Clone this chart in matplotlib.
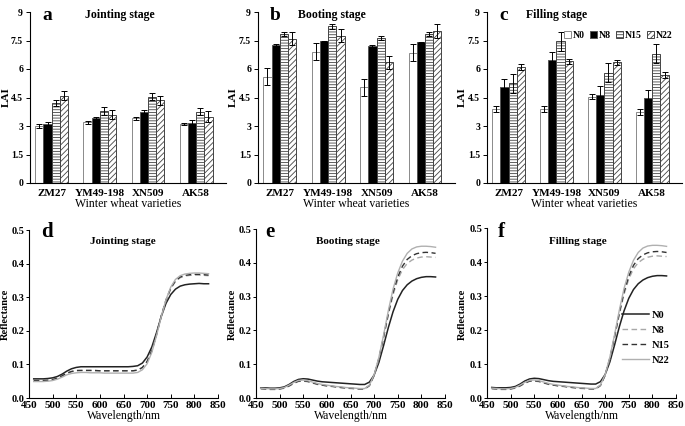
import matplotlib
matplotlib.use("Agg")
import matplotlib.pyplot as plt
import numpy as np

plt.rcParams['font.family'] = ['Liberation Serif', 'DejaVu Serif']
plt.rcParams['font.weight'] = 'bold'
plt.rcParams['hatch.linewidth'] = 0.6

varieties = ["ZM27", "YM49-198", "XN509", "AK58"]
treatments = ["N0", "N8", "N15", "N22"]

# LAI means [treatment][variety]
lai_joint = [[3.0, 3.2, 3.4, 3.1],
             [3.1, 3.4, 3.75, 3.15],
             [4.2, 3.8, 4.55, 3.75],
             [4.6, 3.6, 4.35, 3.5]]
lai_joint_err = [[0.08, 0.08, 0.06, 0.06],
                 [0.12, 0.10, 0.10, 0.15],
                 [0.15, 0.20, 0.18, 0.18],
                 [0.25, 0.25, 0.25, 0.28]]
lai_boot = [[5.6, 6.9, 5.05, 6.85],
            [7.25, 7.45, 7.2, 7.4],
            [7.85, 8.25, 7.65, 7.85],
            [7.6, 7.75, 6.35, 8.0]]
lai_boot_err = [[0.45, 0.45, 0.45, 0.45],
                [0.04, 0.04, 0.04, 0.04],
                [0.12, 0.12, 0.10, 0.10],
                [0.35, 0.35, 0.35, 0.35]]
lai_fill = [[3.9, 3.9, 4.55, 3.75],
            [5.05, 6.45, 4.65, 4.45],
            [5.25, 7.45, 5.8, 6.8],
            [6.1, 6.4, 6.35, 5.7]]
lai_fill_err = [[0.15, 0.15, 0.15, 0.15],
                [0.45, 0.45, 0.45, 0.45],
                [0.50, 0.50, 0.50, 0.50],
                [0.15, 0.15, 0.15, 0.15]]

wavelength = [460, 470, 480, 490, 500, 510, 520, 530, 540, 550, 560, 570, 580,
              590, 600, 610, 620, 630, 640, 650, 660, 670, 680, 690, 700, 710,
              720, 730, 740, 750, 760, 770, 780, 790, 800, 810, 820, 830]

refl_joint = {
    "N0":  [.057, .057, .057, .058, .060, .064, .071, .080, .087, .091, .093, .093, .093,
            .093, .093, .093, .093, .093, .093, .093, .093, .094, .096, .104, .122, .152,
            .195, .243, .282, .308, .324, .333, .337, .339, .340, .341, .340, .340],
    "N8":  [.051, .051, .051, .052, .054, .058, .065, .073, .078, .081, .082, .082, .082,
            .081, .081, .081, .081, .081, .081, .081, .081, .081, .083, .090, .108, .140,
            .188, .243, .290, .325, .347, .358, .363, .365, .366, .366, .365, .364],
    "N15": [.052, .052, .052, .053, .055, .059, .066, .074, .079, .082, .082, .082, .082,
            .082, .081, .081, .081, .081, .081, .081, .081, .081, .083, .091, .109, .141,
            .190, .245, .292, .327, .349, .360, .365, .367, .368, .368, .367, .366],
    "N22": [.049, .049, .049, .050, .052, .056, .062, .069, .073, .075, .076, .076, .075,
            .075, .075, .074, .074, .074, .074, .074, .074, .074, .076, .084, .102, .136,
            .186, .243, .293, .330, .353, .364, .369, .371, .372, .372, .371, .370],
}
refl_boot = {
    "N0":  [.030, .030, .029, .029, .030, .033, .040, .049, .055, .057, .056, .053, .050,
            .048, .047, .046, .045, .044, .043, .042, .041, .040, .040, .047, .068, .105,
            .155, .208, .255, .292, .318, .335, .346, .353, .357, .359, .359, .358],
    "N8":  [.027, .026, .025, .025, .026, .029, .035, .043, .049, .050, .048, .044, .040,
            .038, .036, .034, .032, .031, .029, .028, .027, .026, .026, .036, .066, .115,
            .178, .245, .305, .350, .380, .398, .408, .414, .417, .418, .417, .416],
    "N15": [.028, .027, .026, .026, .027, .030, .036, .044, .050, .051, .049, .045, .041,
            .038, .036, .035, .033, .031, .030, .029, .028, .027, .027, .037, .067, .117,
            .181, .250, .312, .358, .390, .410, .421, .427, .430, .431, .430, .428],
    "N22": [.029, .028, .027, .027, .028, .031, .038, .046, .052, .053, .051, .047, .043,
            .040, .038, .036, .034, .033, .031, .030, .029, .028, .028, .038, .069, .120,
            .186, .258, .322, .370, .405, .428, .441, .447, .449, .449, .448, .446],
}
refl_fill = {
    "N0":  [.031, .030, .030, .030, .031, .034, .041, .050, .056, .058, .057, .054, .051,
            .049, .048, .047, .046, .045, .044, .043, .042, .041, .041, .048, .069, .106,
            .156, .209, .256, .293, .319, .336, .347, .354, .358, .360, .360, .359],
    "N8":  [.027, .026, .025, .025, .026, .029, .035, .043, .049, .050, .048, .044, .040,
            .038, .036, .034, .032, .031, .029, .028, .027, .026, .026, .036, .066, .115,
            .178, .245, .305, .350, .380, .398, .408, .414, .417, .418, .417, .416],
    "N15": [.028, .027, .026, .026, .027, .030, .036, .044, .050, .051, .049, .045, .041,
            .038, .036, .035, .033, .031, .030, .029, .028, .027, .027, .037, .067, .117,
            .181, .250, .312, .358, .390, .410, .421, .427, .430, .431, .430, .428],
    "N22": [.029, .028, .027, .027, .028, .031, .038, .046, .052, .053, .051, .047, .043,
            .040, .038, .036, .034, .033, .031, .030, .029, .028, .028, .038, .069, .120,
            .186, .258, .322, .370, .405, .428, .441, .447, .449, .449, .448, .446],
}

W, H = 685, 426
fig = plt.figure(figsize=(W / 100, H / 100), dpi=100)


def px_axes(l, r, t, b):
    return fig.add_axes([l / W, 1 - b / H, (r - l) / W, (b - t) / H])


bar_styles = [
    dict(facecolor='white', edgecolor='#8a8a8a', hatch=None),
    dict(facecolor='black', edgecolor='#555555', hatch=None),
    dict(facecolor='white', edgecolor='#444444', hatch='------'),
    dict(facecolor='white', edgecolor='#444444', hatch='//////'),
]


def bar_panel(l, r, letter, title, vals, errs, title_x, ylab_x, legend=False):
    ax = px_axes(l, r, 12, 183)
    x = np.arange(len(varieties))
    bw = 0.17
    handles = []
    for i, tr in enumerate(treatments):
        st = bar_styles[i]
        bars = ax.bar(x + (i - 1.5) * bw, vals[i], bw, facecolor=st['facecolor'],
                      edgecolor=st['edgecolor'], hatch=st['hatch'], linewidth=0.7,
                      yerr=errs[i], error_kw=dict(ecolor='black', elinewidth=0.7,
                                                 capsize=2, capthick=0.7),
                      label=tr)
        handles.append(bars)
    ax.set_xlim(-0.45, 3.62)
    ax.set_ylim(0, 9)
    ax.set_yticks([0, 1.5, 3, 4.5, 6, 7.5, 9])
    ax.set_yticklabels(["0", "1.5", "3", "4.5", "6", "7.5", "9"])
    ax.set_xticks(x)
    ax.set_xticklabels(varieties)
    ax.tick_params(axis='x', length=0, pad=4, labelsize=8)
    ax.tick_params(axis='y', direction='out', length=3, labelsize=7, width=0.7, pad=2)
    for s in ['top', 'right']:
        ax.spines[s].set_visible(False)
    for s in ['left', 'bottom']:
        ax.spines[s].set_linewidth(0.8)
    fig.text(ylab_x / W, 1 - 97 / H, "LAI", fontsize=8, fontweight='bold',
             rotation=90, va='center', ha='center')
    ax.set_xlabel("Winter wheat varieties", fontsize=8.5, labelpad=0)
    fig.text((l + 17) / W, 1 - 15 / H, letter, fontsize=14, fontweight='bold',
             va='center', ha='center')
    fig.text(title_x / W, 1 - 15 / H, title, fontsize=8.5, fontweight='bold',
             va='center', ha='center')
    if legend:
        ax.legend(handles=handles, labels=treatments, ncol=4, frameon=False,
                  fontsize=7, handlelength=0.7, handleheight=0.7,
                  handletextpad=0.15, columnspacing=0.6, loc='upper right',
                  bbox_to_anchor=(0.97, 0.91), borderaxespad=0)
    return ax


bar_panel(30, 226, "a", "Jointing stage", lai_joint, lai_joint_err, 120, 6)
bar_panel(258, 455, "b", "Booting stage", lai_boot, lai_boot_err, 332, 233)
bar_panel(487, 682, "c", "Filling stage", lai_fill, lai_fill_err, 557, 462, legend=True)

line_styles = {
    "N0": dict(color='#222222', linestyle='-', linewidth=1.1),
    "N8": dict(color='#a8a8a8', linestyle=(0, (4, 2.5)), linewidth=1.0),
    "N15": dict(color='#333333', linestyle=(0, (4, 2.5)), linewidth=1.0),
    "N22": dict(color='#b0b0b0', linestyle='-', linewidth=1.0),
}


def spec_panel(l, r, t, letter, title, data, title_x, letter_x, ylab_x, legend=False):
    ax = px_axes(l, r, t, 398)
    for tr in treatments:
        ax.plot(wavelength, data[tr], label=tr, **line_styles[tr])
    ax.set_xlim(450, 850)
    ax.set_ylim(0, 0.5)
    ax.set_xticks(range(450, 851, 50))
    ax.set_yticks([0, 0.1, 0.2, 0.3, 0.4, 0.5])
    ax.set_yticklabels(["0.0", "0.1", "0.2", "0.3", "0.4", "0.5"])
    ax.tick_params(axis='x', direction='in', length=3, labelsize=8, pad=2, width=0.7)
    ax.tick_params(axis='y', direction='out', length=2, labelsize=7.5, width=0.7, pad=1.5)
    for s in ['top', 'right']:
        ax.spines[s].set_visible(False)
    for s in ['left', 'bottom']:
        ax.spines[s].set_linewidth(0.8)
    fig.text(ylab_x / W, 1 - 314 / H, "Reflectance", fontsize=7.5, fontweight='bold',
             rotation=90, va='center', ha='center')
    ax.set_xlabel("Wavelength/nm", fontsize=8.5, labelpad=0)
    fig.text(letter_x / W, 1 - 232 / H, letter, fontsize=15, fontweight='bold',
             va='center', ha='center')
    fig.text(title_x / W, 1 - 242 / H, title, fontsize=8, fontweight='bold',
             va='center', ha='center')
    if legend:
        ax.legend(frameon=False, fontsize=7.5, handlelength=2.6, handletextpad=0.3,
                  labelspacing=0.55, loc='lower right', bbox_to_anchor=(0.99, 0.17),
                  borderaxespad=0)
    return ax


spec_panel(29, 218, 230, "d", "Jointing stage", refl_joint, 123, 47, 5)
spec_panel(256, 445, 229, "e", "Booting stage", refl_boot, 348, 270, 232)
spec_panel(487, 676, 228, "f", "Filling stage", refl_fill, 578, 501, 462, legend=True)

fig.savefig("out.png", dpi=100)
